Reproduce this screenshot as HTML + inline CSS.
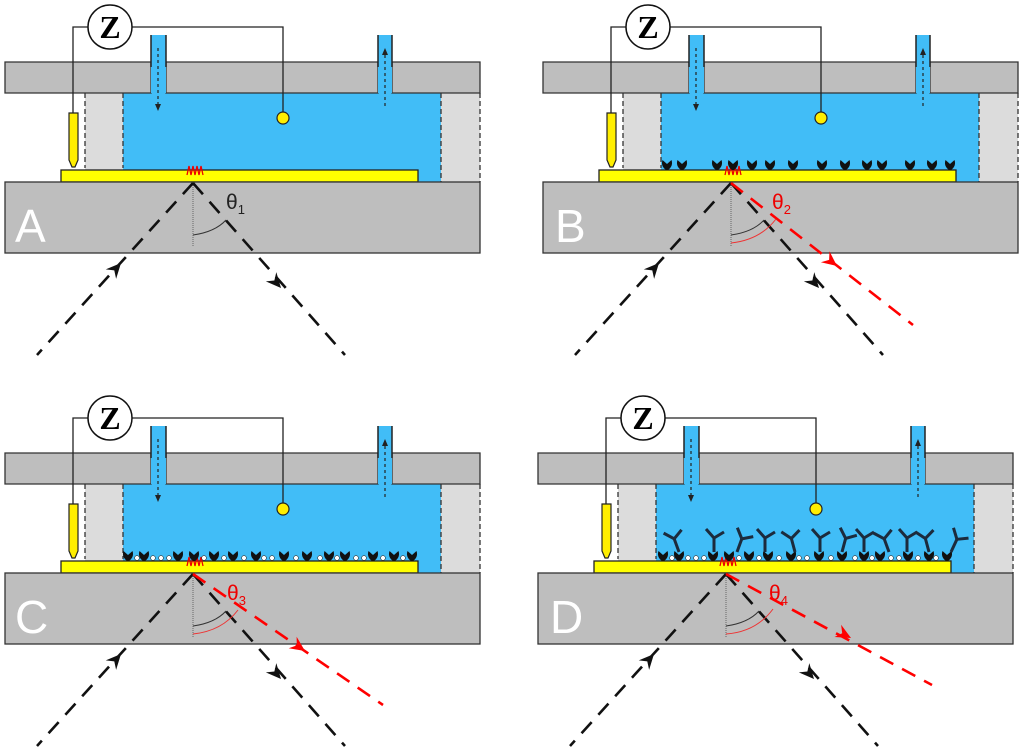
<!DOCTYPE html>
<html><head><meta charset="utf-8"><style>
html,body{margin:0;padding:0;background:#fff;}
svg{display:block;}
text{font-family:"Liberation Sans",sans-serif;}
</style></head><body>
<svg width="1024" height="753" viewBox="0 0 1024 753" xmlns="http://www.w3.org/2000/svg">
<defs>
<path id="ah" d="M0,0 L-15,-7 L-10,0 L-15,7 Z"/>
<g id="base">
  <rect x="85" y="93" width="38" height="89" fill="#dcdcdc"/>
  <rect x="441" y="93" width="39" height="89" fill="#dcdcdc"/>
  <rect x="123" y="93" width="318" height="89" fill="#41bdf7"/>
  <line x1="85" y1="93" x2="85" y2="168" stroke="#333" stroke-width="1.3" stroke-dasharray="5,3"/>
  <line x1="123" y1="93" x2="123" y2="168" stroke="#333" stroke-width="1.3" stroke-dasharray="5,3"/>
  <line x1="441" y1="93" x2="441" y2="182" stroke="#333" stroke-width="1.3" stroke-dasharray="5,3"/>
  <line x1="480" y1="93" x2="480" y2="182" stroke="#333" stroke-width="1.3" stroke-dasharray="5,3"/>
  <path d="M5,62 H151 V93 H5 Z M166,62 H378 V93 H166 Z M392,62 H480 V93 H392 Z" fill="#bebebe" stroke="#333" stroke-width="1.3"/>
  <rect x="151" y="35" width="15" height="58" fill="#41bdf7"/>
  <rect x="378" y="35" width="14" height="58" fill="#41bdf7"/>
  <line x1="151" y1="35" x2="151" y2="67" stroke="#222" stroke-width="1.5"/>
  <line x1="166" y1="35" x2="166" y2="67" stroke="#222" stroke-width="1.5"/>
  <line x1="378" y1="35" x2="378" y2="67" stroke="#222" stroke-width="1.5"/>
  <line x1="392" y1="35" x2="392" y2="67" stroke="#222" stroke-width="1.5"/>
  <line x1="158" y1="48" x2="158" y2="105" stroke="#222" stroke-width="1.2" stroke-dasharray="3,3"/>
  <path d="M155,104 L161,104 L158,111 Z" fill="#222"/>
  <line x1="385" y1="55" x2="385" y2="108" stroke="#222" stroke-width="1.2" stroke-dasharray="3,3"/>
  <path d="M382,55 L388,55 L385,48 Z" fill="#222"/>
  <polyline points="89,27 73,27 73,113" fill="none" stroke="#222" stroke-width="1.3"/>
  <polyline points="131,27 283,27 283,112" fill="none" stroke="#222" stroke-width="1.3"/>
  <circle cx="110" cy="27" r="22" fill="#fff" stroke="#111" stroke-width="1.5"/>
  <circle cx="283" cy="118" r="6" fill="#ffee00" stroke="#222" stroke-width="1.2"/>
  <path d="M69,113 H78 V160 L75,167 H72 L69,160 Z" fill="#ffee00" stroke="#222" stroke-width="1.2"/>
  <rect x="61" y="170" width="357" height="12" fill="#ffff00" stroke="#222" stroke-width="1.3"/>
  <rect x="5" y="182" width="475" height="71" fill="#bebebe" stroke="#333" stroke-width="1.3"/>
  <polyline points="187,175 189,166 191,175 193,166 195,175 197,166 199,175 201,166 203,175" fill="none" stroke="#e00" stroke-width="1.3"/>
  <line x1="193" y1="183" x2="193" y2="246" stroke="#666" stroke-width="1" stroke-dasharray="1,1"/>
  <line x1="193" y1="183" x2="37" y2="355" stroke="#111" stroke-width="2.6" stroke-dasharray="15,10"/>
  <line x1="193" y1="183" x2="345" y2="355" stroke="#111" stroke-width="2.6" stroke-dasharray="15,10"/>
  <use href="#ah" fill="#111" transform="translate(121,263) rotate(-47.8)"/>
  <use href="#ah" fill="#111" transform="translate(281,288) rotate(48.5)"/>
  <path d="M193,235 Q215,232 226,220" fill="none" stroke="#333" stroke-width="1"/>
</g>
<path id="rec" d="M-4.5,-10 L0,-6 L4.5,-10 Q6.5,-4 1,0 L-1,0 Q-6.5,-4 -4.5,-10Z" fill="#111"/>
<g id="ab" stroke="#1c2b3d" stroke-width="3" fill="none">
  <line x1="0" y1="0" x2="0" y2="-14"/>
  <line x1="0" y1="-14" x2="-8" y2="-23"/>
  <line x1="0" y1="-14" x2="10" y2="-20"/>
</g>
</defs>

<use href="#base"/>
<use href="#base" transform="translate(538,0)"/>
<use href="#base" transform="translate(0,391)"/>
<use href="#base" transform="translate(533,391)"/>

<g font-weight="bold" font-size="32" text-anchor="middle">
<text x="110" y="38" style="font-family:'Liberation Serif',serif">Z</text>
<text x="648" y="38" style="font-family:'Liberation Serif',serif">Z</text>
<text x="110" y="429" style="font-family:'Liberation Serif',serif">Z</text>
<text x="643" y="429" style="font-family:'Liberation Serif',serif">Z</text>
</g>

<g fill="#fff" font-size="46">
<text x="15" y="242">A</text>
<text x="555" y="242">B</text>
<text x="15" y="633">C</text>
<text x="550" y="633">D</text>
</g>

<text x="226" y="209" font-size="21" fill="#222">θ<tspan font-size="13" dy="5">1</tspan></text>
<text x="772" y="209" font-size="21" fill="#e00">θ<tspan font-size="13" dy="5">2</tspan></text>
<text x="227" y="600" font-size="21" fill="#e00">θ<tspan font-size="13" dy="5">3</tspan></text>
<text x="769" y="600" font-size="21" fill="#e00">θ<tspan font-size="13" dy="5">4</tspan></text>

<g stroke="#f00" stroke-width="2.6" stroke-dasharray="15,10" fill="none">
<line x1="731" y1="183" x2="913" y2="325"/>
<line x1="193" y1="574" x2="383" y2="705"/>
<line x1="726" y1="574" x2="932" y2="685"/>
</g>
<use href="#ah" fill="#f00" transform="translate(837,266) rotate(38)"/>
<use href="#ah" fill="#f00" transform="translate(305,651) rotate(34.6)"/>
<use href="#ah" fill="#f00" transform="translate(851,638) rotate(28.3)"/>
<g fill="none" stroke="#e33" stroke-width="1">
<path d="M731,243 Q760,240 776,219"/>
<path d="M193,634 Q222,631 238,610"/>
<path d="M726,634 Q756,632 773,609"/>
</g>

<g transform="translate(538,170)">
<use href="#rec" x="129" y="0"/><use href="#rec" x="144" y="0"/><use href="#rec" x="179" y="0"/>
<use href="#rec" x="195" y="0"/><use href="#rec" x="214" y="0"/><use href="#rec" x="232" y="0"/>
<use href="#rec" x="255" y="0"/><use href="#rec" x="284" y="0"/><use href="#rec" x="307" y="0"/>
<use href="#rec" x="329" y="0"/><use href="#rec" x="344" y="0"/><use href="#rec" x="372" y="0"/>
<use href="#rec" x="394" y="0"/><use href="#rec" x="412" y="0"/>
</g>

<g transform="translate(0,561)">
<use href="#rec" x="128" y="0"/><use href="#rec" x="144" y="0"/><use href="#rec" x="178" y="0"/>
<use href="#rec" x="194" y="0"/><use href="#rec" x="214" y="0"/><use href="#rec" x="233" y="0"/>
<use href="#rec" x="256" y="0"/><use href="#rec" x="284" y="0"/><use href="#rec" x="307" y="0"/>
<use href="#rec" x="329" y="0"/><use href="#rec" x="345" y="0"/><use href="#rec" x="373" y="0"/>
<use href="#rec" x="394" y="0"/><use href="#rec" x="412" y="0"/>
<g fill="#fff" stroke="#333" stroke-width="0.6">
<circle cx="137" cy="-3" r="2.4"/><circle cx="153" cy="-3" r="2.4"/><circle cx="161" cy="-3" r="2.4"/><circle cx="169" cy="-3" r="2.4"/>
<circle cx="204" cy="-3" r="2.4"/><circle cx="224" cy="-3" r="2.4"/><circle cx="244" cy="-3" r="2.4"/><circle cx="264" cy="-3" r="2.4"/>
<circle cx="272" cy="-3" r="2.4"/><circle cx="296" cy="-3" r="2.4"/><circle cx="320" cy="-3" r="2.4"/><circle cx="337" cy="-3" r="2.4"/>
<circle cx="356" cy="-3" r="2.4"/><circle cx="364" cy="-3" r="2.4"/><circle cx="383" cy="-3" r="2.4"/><circle cx="403" cy="-3" r="2.4"/>
</g>
</g>

<g transform="translate(533,561)">
<use href="#rec" x="130" y="0"/><use href="#rec" x="146" y="0"/><use href="#rec" x="180" y="0"/>
<use href="#rec" x="196" y="0"/><use href="#rec" x="216" y="0"/><use href="#rec" x="235" y="0"/>
<use href="#rec" x="258" y="0"/><use href="#rec" x="286" y="0"/><use href="#rec" x="309" y="0"/>
<use href="#rec" x="331" y="0"/><use href="#rec" x="347" y="0"/><use href="#rec" x="375" y="0"/>
<use href="#rec" x="396" y="0"/><use href="#rec" x="414" y="0"/>
<g fill="#fff" stroke="#333" stroke-width="0.6">
<circle cx="139" cy="-3" r="2.4"/><circle cx="155" cy="-3" r="2.4"/><circle cx="163" cy="-3" r="2.4"/><circle cx="171" cy="-3" r="2.4"/>
<circle cx="206" cy="-3" r="2.4"/><circle cx="226" cy="-3" r="2.4"/><circle cx="246" cy="-3" r="2.4"/><circle cx="266" cy="-3" r="2.4"/>
<circle cx="274" cy="-3" r="2.4"/><circle cx="298" cy="-3" r="2.4"/><circle cx="322" cy="-3" r="2.4"/><circle cx="339" cy="-3" r="2.4"/>
<circle cx="358" cy="-3" r="2.4"/><circle cx="366" cy="-3" r="2.4"/><circle cx="385" cy="-3" r="2.4"/><circle cx="403" cy="-3" r="2.4"/>
</g>
<use href="#ab" x="146" y="-9" transform="rotate(-20 146 -9)"/><use href="#ab" x="181" y="-9"/><use href="#ab" x="204" y="-9" transform="rotate(20 204 -9)"/>
<use href="#ab" x="232" y="-9"/><use href="#ab" x="262" y="-9" transform="rotate(-15 262 -9)"/><use href="#ab" x="287" y="-9"/>
<use href="#ab" x="309" y="-9" transform="rotate(15 309 -9)"/><use href="#ab" x="331" y="-9"/><use href="#ab" x="356" y="-9" transform="rotate(-20 356 -9)"/>
<use href="#ab" x="374" y="-9"/><use href="#ab" x="396" y="-9" transform="rotate(-15 396 -9)"/><use href="#ab" x="418" y="-9" transform="rotate(25 418 -9)"/>
</g>
</svg>
</body></html>
